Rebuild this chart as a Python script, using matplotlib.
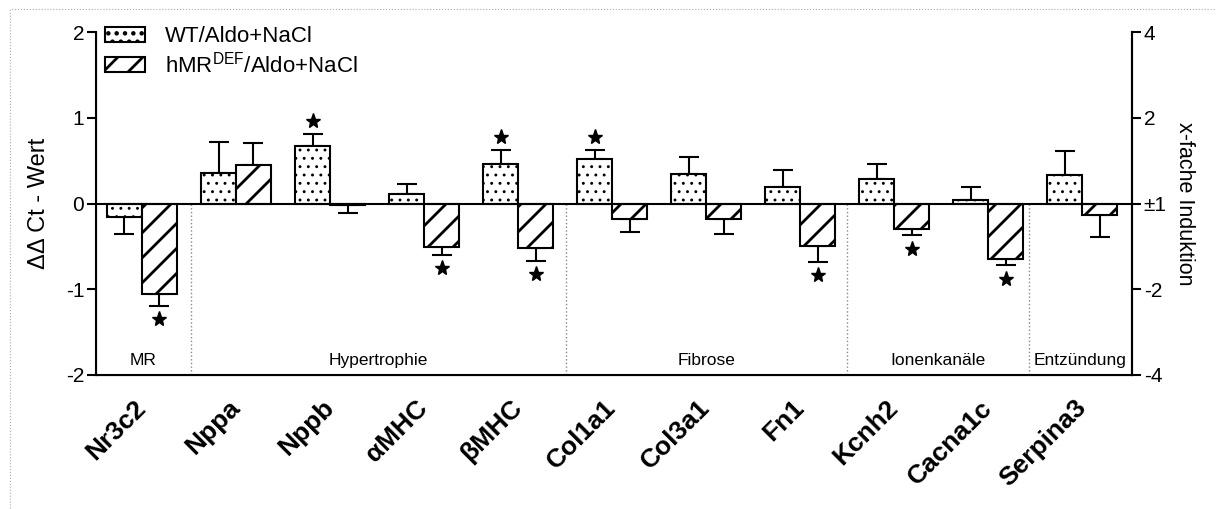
import matplotlib
matplotlib.use('Agg')
import matplotlib.pyplot as plt
import numpy as np
from matplotlib.patches import Rectangle
from matplotlib.backend_bases import GraphicsContextBase
from matplotlib import hatch as mhatch

# ---------------- data ----------------
genes = ['Nr3c2', 'Nppa', 'Nppb', 'αMHC', 'βMHC', 'Col1a1', 'Col3a1', 'Fn1',
         'Kcnh2', 'Cacna1c', 'Serpina3']
wt_mean = [-0.16, 0.35, 0.67, 0.11, 0.46, 0.52, 0.34, 0.19, 0.28, 0.04, 0.33]
wt_err = [0.19, 0.37, 0.14, 0.12, 0.16, 0.10, 0.20, 0.20, 0.18, 0.15, 0.28]
hmr_mean = [-1.05, 0.45, -0.02, -0.51, -0.52, -0.18, -0.18, -0.50, -0.30, -0.65, -0.13]
hmr_err = [0.14, 0.25, 0.09, 0.09, 0.15, 0.15, 0.17, 0.18, 0.07, 0.07, 0.26]
wt_sig = [False, False, True, False, True, True, False, False, False, False, False]
hmr_sig = [True, False, False, True, True, False, False, True, True, True, False]
categories = ['MR', 'Hypertrophie', 'Fibrose', 'Ionenkanäle', 'Entzündung']
left_ticks = [2, 1, 0, -1, -2]
left_ticklabels = ['2', '1', '0', '-1', '-2']
right_ticklabels = ['4', '2', '±1', '-2', '-4']
series_labels = ['WT/Aldo+NaCl', r'hMR$^{\mathrm{DEF}}$/Aldo+NaCl']

# ---------------- style ----------------
plt.rcParams['font.family'] = ['Liberation Sans', 'DejaVu Sans']
plt.rcParams['mathtext.fontset'] = 'custom'
plt.rcParams['mathtext.rm'] = 'Liberation Sans'
plt.rcParams['mathtext.it'] = 'Liberation Sans:italic'
plt.rcParams['mathtext.bf'] = 'Liberation Sans:bold'


# slightly denser diagonal hatching than the default density
def _hatch_path(self, density=6.0):
    h = self.get_hatch()
    if h is None:
        return None
    return mhatch.get_path(h, 8.0 if '/' in h else density)


GraphicsContextBase.get_hatch_path = _hatch_path

W, H = 1216, 509
fig = plt.figure(figsize=(W / 100, H / 100), dpi=100)
ax = fig.add_axes([96 / W, 1 - 375 / H, (1132 - 96) / W, (375 - 32) / H])

x = np.arange(len(genes))
bw = 0.372
boundaries = [0.52, 4.51, 7.5, 9.43]
xlim = (-0.489, 10.53)


def one_sided(vals, errs):
    lo = [e if v < 0 else 0 for v, e in zip(vals, errs)]
    hi = [e if v >= 0 else 0 for v, e in zip(vals, errs)]
    return [lo, hi]


plt.rcParams['hatch.linewidth'] = 0.9
b1 = ax.bar(x - bw / 2, wt_mean, bw, color='white', edgecolor='black',
            linewidth=1.5, hatch='..', label=series_labels[0], zorder=3)
for p in b1:
    if hasattr(p, 'set_hatch_linewidth'):
        p.set_hatch_linewidth(0.9)
plt.rcParams['hatch.linewidth'] = 2.0
b2 = ax.bar(x + bw / 2, hmr_mean, bw, color='white', edgecolor='black',
            linewidth=1.5, hatch='/', label=series_labels[1], zorder=3)
for p in b2:
    if hasattr(p, 'set_hatch_linewidth'):
        p.set_hatch_linewidth(2.0)

ax.errorbar(x - bw / 2, wt_mean, yerr=one_sided(wt_mean, wt_err), fmt='none',
            ecolor='black', elinewidth=1.5, capsize=7.5, capthick=1.5, zorder=2)
ax.errorbar(x + bw / 2, hmr_mean, yerr=one_sided(hmr_mean, hmr_err), fmt='none',
            ecolor='black', elinewidth=1.5, capsize=7.5, capthick=1.5, zorder=2)

# significance stars
off = 0.155
for xs, vals, errs, sig in [(x - bw / 2, wt_mean, wt_err, wt_sig),
                            (x + bw / 2, hmr_mean, hmr_err, hmr_sig)]:
    for xi, v, e, s in zip(xs, vals, errs, sig):
        if s:
            yy = v + e + off if v >= 0 else v - e - off
            ax.plot(xi, yy, marker='*', color='black', markersize=11, zorder=4)

ax.axhline(0, color='black', linewidth=1.5, zorder=4)

# group separators and category labels
for b in boundaries:
    ax.plot([b, b], [0, -2], color='#888888', linestyle=':', linewidth=1.0, zorder=1)
edges = [xlim[0]] + boundaries + [xlim[1]]
for i, c in enumerate(categories):
    ax.text((edges[i] + edges[i + 1]) / 2, -1.83, c, ha='center', va='center',
            fontsize=12.5)

ax.set_xlim(*xlim)
ax.set_ylim(-2, 2)
ax.set_yticks(left_ticks)
ax.set_yticklabels(left_ticklabels, fontsize=15)
ax.set_ylabel('ΔΔ Ct - Wert', fontsize=17, labelpad=11)
ax.set_xticks(x)
ax.set_xticklabels(genes, fontsize=19, fontweight='bold', rotation=45,
                   ha='right', va='center', rotation_mode='anchor')
ax.tick_params(axis='x', length=0, pad=21)
ax.tick_params(axis='y', length=6.5, width=1.5, pad=2)

ax.spines['top'].set_visible(False)
for s in ['left', 'bottom', 'right']:
    ax.spines[s].set_linewidth(1.5)

ax2 = ax.twinx()
ax2.set_ylim(-2, 2)
ax2.set_yticks(left_ticks)
ax2.set_yticklabels(right_ticklabels, fontsize=15)
ax2.tick_params(axis='y', length=6.5, width=1.5, pad=2)
ax2.spines['top'].set_visible(False)
ax2.spines['right'].set_linewidth(1.5)
ax2.set_ylabel('x-fache Induktion', fontsize=15.5, rotation=270, labelpad=20)

leg = ax.legend(loc='upper left', bbox_to_anchor=(0.0085, 1.017), frameon=False,
                fontsize=16, handlelength=1.8, handleheight=0.63,
                handletextpad=0.9, labelspacing=0.18, borderpad=0,
                borderaxespad=0)

# outer dotted frame
fig.patches.append(Rectangle((10 / W, -0.1), 1.2, 1 - 9 / H + 0.1,
                             transform=fig.transFigure, fill=False,
                             edgecolor='#aaaaaa', linestyle=':', linewidth=0.8))

fig.savefig('out.png', dpi=100)
